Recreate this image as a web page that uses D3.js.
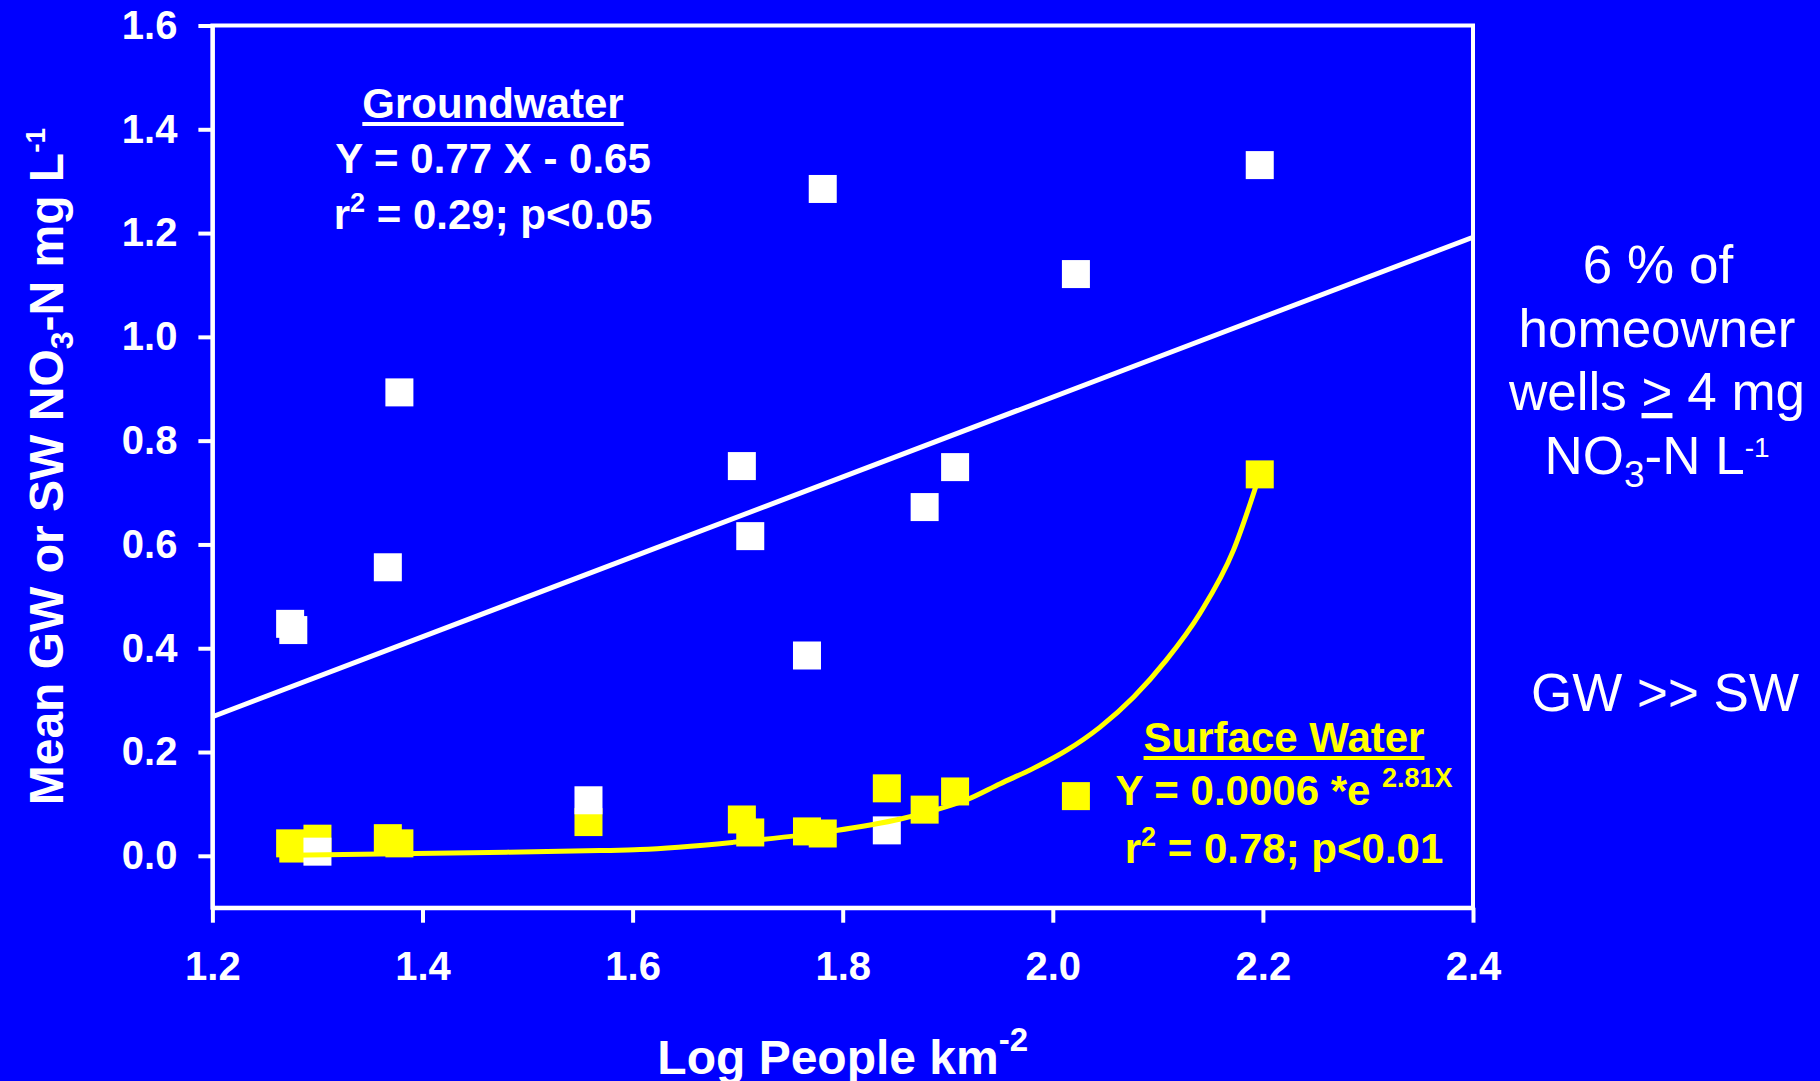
<!DOCTYPE html>
<html>
<head>
<meta charset="utf-8">
<script src="https://cdn.jsdelivr.net/npm/d3@7"></script>
<style>
  html, body { margin: 0; padding: 0; background: #0000ff; }
  svg { display: block; }
  text { font-family: "Liberation Sans", Arial, sans-serif; }
</style>
</head>
<body>
<script>
// size of the page / plot box
var w = 1820;
var h = 1081;
var margin = {top: 25.5, right: 347, bottom: 173.3, left: 212.4};

// ticks
var xTicks = [1.2, 1.4, 1.6, 1.8, 2.0, 2.2, 2.4];
var yTicks = [0.0, 0.2, 0.4, 0.6, 0.8, 1.0, 1.2, 1.4, 1.6];

// one x per site (log people per km2)
var logPeople = [1.274, 1.277, 1.300, 1.367, 1.378, 1.558, 1.704, 1.712, 1.766, 1.781, 1.842, 1.878, 1.907, 2.022, 2.197];
// mean groundwater NO3-N (white squares)
var gwNitrate = [0.447, 0.435, 0.008, 0.556, 0.893, 0.107, 0.751, 0.616, 0.386, 1.285, 0.049, 0.672, 0.749, 1.121, 1.331];
// mean surface water NO3-N (yellow squares)
var swNitrate = [0.024, 0.014, 0.033, 0.034, 0.024, 0.065, 0.070, 0.045, 0.047, 0.043, 0.130, 0.089, 0.124, 0.115, 0.735];

// fitted lines as drawn in the picture
var gwFitX = [1.2, 2.4];
var gwFitY = [0.268, 1.192];
var swFitX = [1.274, 1.480, 1.569, 1.607, 1.696, 1.791, 1.855, 1.886, 1.918, 1.950, 1.981, 2.013, 2.045, 2.077, 2.108, 2.140, 2.172, 2.197];
var swFitY = [0.001, 0.007, 0.010, 0.012, 0.026, 0.048, 0.071, 0.087, 0.108, 0.139, 0.168, 0.203, 0.248, 0.306, 0.377, 0.467, 0.589, 0.735];

var blue = "#0000ff";
var yellow = "#ffff00";
var font = '"Liberation Sans", Arial, sans-serif';
var sq = 28;

var xScale = d3.scaleLinear()
    .domain([1.2, 2.4])
    .range([margin.left, w - margin.right]);

var yScale = d3.scaleLinear()
    .domain([-0.1, 1.6])
    .range([h - margin.bottom, margin.top]);

var svg = d3.select("body")
    .append("svg")
    .attr("width", w)
    .attr("height", h)
    .style("background", blue);

// plot frame
svg.append("rect")
    .attr("x", margin.left)
    .attr("y", margin.top)
    .attr("width", w - margin.right - margin.left)
    .attr("height", h - margin.bottom - margin.top)
    .attr("fill", "none")
    .attr("stroke", "white")
    .attr("stroke-width", 4);

// axes
var xAxis = d3.axisBottom(xScale)
    .tickValues(xTicks)
    .tickFormat(d3.format(".1f"))
    .tickSize(15)
    .tickSizeOuter(0)
    .tickPadding(29);

var yAxis = d3.axisLeft(yScale)
    .tickValues(yTicks)
    .tickFormat(d3.format(".1f"))
    .tickSize(14)
    .tickSizeOuter(0)
    .tickPadding(21);

var gx = svg.append("g")
    .attr("transform", "translate(0," + (h - margin.bottom) + ")")
    .call(xAxis);

var gy = svg.append("g")
    .attr("transform", "translate(" + margin.left + ",0)")
    .call(yAxis);

[gx, gy].forEach(function(g) {
    g.selectAll("path, line").attr("stroke", "white").attr("stroke-width", 4);
    g.selectAll("text")
        .attr("fill", "white")
        .style("font-family", font)
        .style("font-size", "40px")
        .style("font-weight", "bold");
});

// points: yellow first, white on top, then the fits
function squares(vals, color) {
    svg.append("g").selectAll("rect")
        .data(vals)
        .enter()
        .append("rect")
        .attr("x", (d, i) => xScale(logPeople[i]) - sq / 2)
        .attr("y", d => yScale(d) - sq / 2)
        .attr("width", sq)
        .attr("height", sq)
        .attr("fill", color);
}
squares(swNitrate, yellow);
squares(gwNitrate, "white");

var line = d3.line()
    .x(d => xScale(d[0]))
    .y(d => yScale(d[1]))
    .curve(d3.curveMonotoneX);

svg.append("path")
    .datum(d3.zip(swFitX, swFitY))
    .attr("d", line)
    .attr("fill", "none")
    .attr("stroke", yellow)
    .attr("stroke-width", 5);

svg.append("path")
    .datum(d3.zip(gwFitX, gwFitY))
    .attr("d", line)
    .attr("fill", "none")
    .attr("stroke", "white")
    .attr("stroke-width", 5);

// text helper: parts are [string, size, dy, underline]
function label(x, y, parts, opts) {
    opts = opts || {};
    var t = svg.append("text")
        .attr("x", x)
        .attr("y", y)
        .attr("fill", opts.fill || "white")
        .attr("text-anchor", opts.anchor || "middle")
        .style("font-family", font)
        .style("font-weight", opts.weight || "bold")
        .style("font-size", (opts.size || 42) + "px");
    if (opts.transform) t.attr("transform", opts.transform);
    parts.forEach(function(p) {
        var s = t.append("tspan").text(p[0]);
        if (p[1]) s.style("font-size", p[1] + "px");
        if (p[2]) s.attr("dy", p[2]);
        if (p[3]) s.style("text-decoration", "underline");
    });
    return t;
}

function underline(t, color) {
    var b = t.node().getBBox();
    var y = +t.attr("y");
    svg.append("rect")
        .attr("x", b.x)
        .attr("y", y + 4)
        .attr("width", b.width)
        .attr("height", 4)
        .attr("fill", color);
}

// axis titles
var yMid = (margin.top + h - margin.bottom) / 2;
label(0, 0, [["Mean GW or SW NO"], ["3", 32, 10], ["-N mg L", 48, -10], ["-1", 28, -18]],
    {size: 48, transform: "translate(63," + yMid + ") rotate(-90)"});
label((margin.left + w - margin.right) / 2, 1074, [["Log People km"], ["-2", 33, -23]], {size: 48});

// groundwater block
var g1 = label(493, 118, [["Groundwater"]]);
underline(g1, "white");
label(493, 173, [["Y = 0.77 X - 0.65"]]);
label(493, 229, [["r"], ["2", 27, -17], [" = 0.29; p<0.05", 42, 17]]);

// surface water block
var s1 = label(1284, 752, [["Surface Water"]], {fill: yellow});
underline(s1, yellow);
label(1284, 805, [["Y = 0.0006 *e "], ["2.81X", 27, -18]], {fill: yellow});
label(1284, 863, [["r"], ["2", 27, -17], [" = 0.78; p<0.01", 42, 17]], {fill: yellow});

// notes on the right
var note = {size: 53, weight: "normal"};
label(1658, 283, [["6 % of"]], note);
label(1657, 347, [["homeowner"]], note);
label(1657, 410, [["wells "], [">", 53, 0, true], [" 4 mg"]], note);
label(1657, 474, [["NO"], ["3", 37, 13], ["-N L", 53, -13], ["-1", 28, -17]], note);
label(1665, 711, [["GW >> SW"]], note);
</script>
</body>
</html>
